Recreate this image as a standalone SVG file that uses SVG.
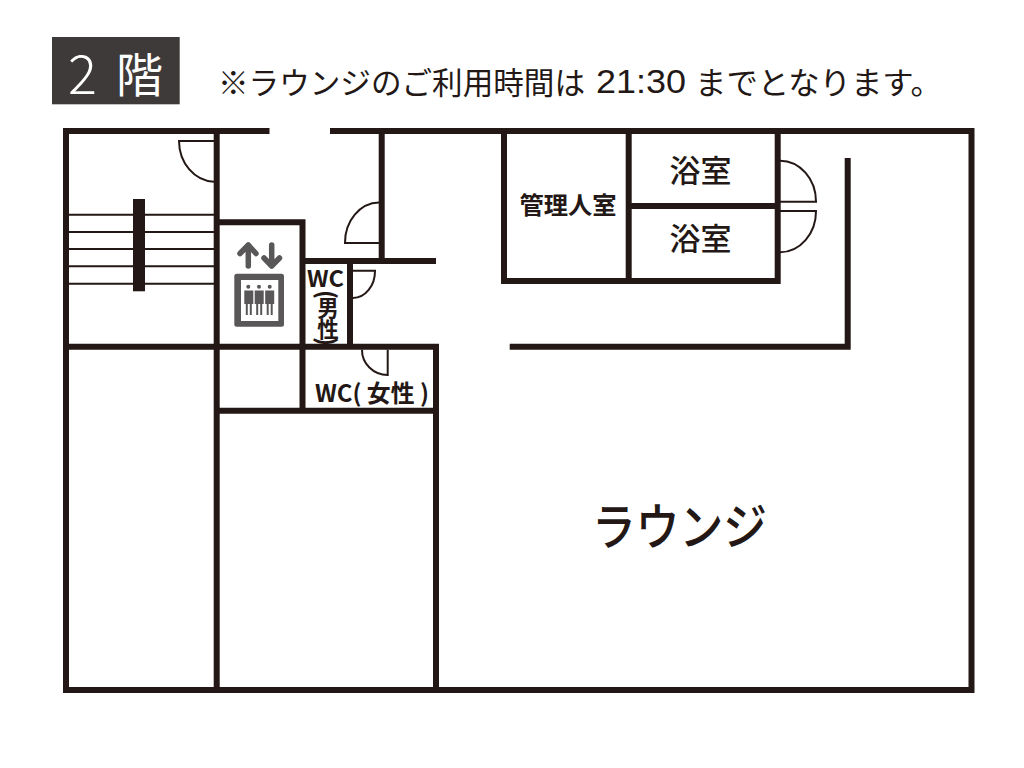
<svg xmlns="http://www.w3.org/2000/svg" width="1024" height="768" viewBox="0 0 1024 768">
<style>
.w{fill:none;stroke:#231815;stroke-width:6;stroke-linecap:butt;stroke-linejoin:miter}
.d{fill:none;stroke:#231815;stroke-width:2}
.s{fill:none;stroke:#231815;stroke-width:2}
.i{fill:#595757}
.a{fill:none;stroke:#595757;stroke-width:5.500;stroke-linecap:round;stroke-linejoin:round}
text{font-family:"Noto Sans CJK JP","Noto Sans",sans-serif;fill:#231815}
.m{font-weight:700}
.t{font-size:30.500px;font-weight:400}
</style>
<rect width="1024" height="768" fill="#fff"/>
<g id="header">
<rect x="52" y="37" width="127.7" height="67.3" fill="#3e3a39"/>
<text x="68" y="94" font-size="54" font-weight="300" style="fill:#fff">2</text>
<text x="116" y="92" font-size="47" font-weight="400" style="fill:#fff">階</text>
<text class="t" x="218" y="94" textLength="367" lengthAdjust="spacingAndGlyphs">※ラウンジのご利用時間は</text>
<text x="596" y="93" font-size="32.500" textLength="90" lengthAdjust="spacingAndGlyphs" style="font-family:'Liberation Sans',sans-serif">21:30</text>
<text class="t" x="695" y="94" textLength="247" lengthAdjust="spacingAndGlyphs">までとなります。</text>
</g>
<g id="walls">
<path class="w" d="M269.5 131H66V690H971.500V131H330"/>
<path class="w" d="M216.7 131V690"/>
<path class="w" d="M381.7 131V261"/>
<path class="w" d="M216.7 222.3H302.5V410.8"/>
<path class="w" d="M302.5 261H436"/>
<path class="w" d="M350 261V346.7"/>
<path class="w" d="M66 346.7H436V690"/>
<path class="w" d="M216.7 410.8H436"/>
<path class="w" d="M504 131V281H777.7V131"/>
<path class="w" d="M628.7 131V281"/>
<path class="w" d="M628.7 206H777.7"/>
<path class="w" d="M847.7 158V346.7H509.7"/>
</g>
<g id="stairs">
<path class="s" d="M69 214.7H214M69 232H214M69 249H214M69 266.3H214M69 283.7H214"/>
<rect x="133" y="199" width="12" height="92.3" fill="#231815"/>
</g>
<g id="doors">
<path class="d" d="M214 141H179A36 41 0 0 0 214 181.7"/>
<path class="d" d="M379 202.5A34.500 40 0 0 0 345 243H379"/>
<path class="d" d="M353 270.700H375A22 27 0 0 1 353 298"/>
<path class="d" d="M362 349.700A26 25 0 0 0 387.700 375V349.700"/>
<path class="d" d="M780 160.700A36 41 0 0 1 816 201.700H780"/>
<path class="d" d="M780 211H816A36 41 0 0 1 780 252.300"/>
</g>
<g id="elevator">
<rect class="i" x="234.300" y="273.700" width="49.700" height="53" rx="2.500"/>
<rect x="241" y="280" width="37.300" height="41" fill="#fff"/>
<g class="i">
<circle cx="248.300" cy="286.700" r="2"/><circle cx="259" cy="286.700" r="2"/><circle cx="269.700" cy="286.700" r="2"/>
<path d="M244.300 290.500h9v13.500h-1.500v11h-2v-11h-2v11h-2v-11h-1.500z"/>
<path d="M254.700 290.500h9v13.500h-1.500v11h-2v-11h-2v11h-2v-11h-1.500z"/>
<path d="M265.200 290.500h9v13.500h-1.500v11h-2v-11h-2v11h-2v-11h-1.500z"/>
</g>
<path class="a" d="M248.300 266V245M240 253.500L248.300 245L256 253.500"/>
<path class="a" d="M271.700 245V266M264 258L271.700 266L279.500 258"/>
</g>
<g id="labels">
<text class="m" x="568" y="214" font-size="24" text-anchor="middle" textLength="97" lengthAdjust="spacingAndGlyphs">管理人室</text>
<text x="700.500" y="182" font-size="31" text-anchor="middle" font-weight="500">浴室</text>
<text x="700.500" y="250" font-size="31" text-anchor="middle" font-weight="500">浴室</text>
<text x="592" y="545" font-size="50" font-weight="500" textLength="175" lengthAdjust="spacingAndGlyphs">ラウンジ</text>
<text class="m" x="307" y="286.500" font-size="23" textLength="37" lengthAdjust="spacingAndGlyphs">WC</text>
<text class="m" x="328" y="290" font-size="24" writing-mode="vertical-rl">(</text>
<text class="m" x="328" y="297" font-size="21.500" writing-mode="vertical-rl">男性</text>
<text class="m" x="328" y="337" font-size="24" writing-mode="vertical-rl">)</text>
<text class="m" x="315" y="402" font-size="24" textLength="114" lengthAdjust="spacingAndGlyphs">WC( 女性 )</text>
</g>
</svg>
